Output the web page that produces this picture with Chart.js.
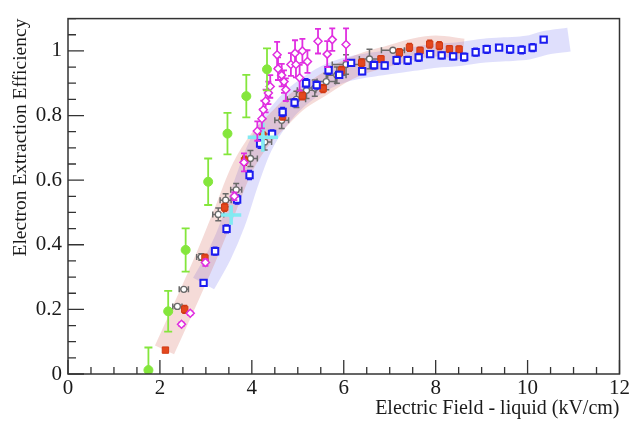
<!DOCTYPE html>
<html>
<head>
<meta charset="utf-8">
<script src="https://cdn.jsdelivr.net/npm/chart.js@4/dist/chart.umd.min.js"></script>
<style>
  html, body { margin: 0; padding: 0; background: #fff; }
</style>
</head>
<body>
<canvas id="extraction" width="632" height="425"></canvas>
<script>
// green: filled circles, vertical errors only
const greenX = [1.75, 2.18, 2.56, 3.05, 3.47, 3.88, 4.33]
const greenY = [0.012, 0.194, 0.384, 0.595, 0.744, 0.86, 0.943]
const greenYErr = [0.07, 0.063, 0.067, 0.072, 0.064, 0.066, 0.065]

// magenta: open diamonds
const magX = [2.47, 2.66, 2.99, 3.62, 3.83, 4.12, 4.22, 4.25, 4.30, 4.36, 4.40, 4.55, 4.57, 4.65, 4.70, 4.74,
  4.85, 4.94, 4.96, 5.04, 5.10, 5.21, 5.44, 5.64, 5.75, 6.05]
const magY = [0.154, 0.188, 0.345, 0.55, 0.655, 0.752, 0.79, 0.818, 0.845, 0.87, 0.89, 0.988, 0.945, 0.925, 0.905, 0.88,
  0.958, 0.993, 0.958, 0.917, 1.0, 0.967, 1.03, 0.99, 1.035, 1.02]
const magYErr = [0.006, 0.006, 0.01, 0.012, 0.028, 0.03, 0.03, 0.028, 0.035, 0.035, 0.035, 0.04, 0.035, 0.035, 0.035, 0.035,
  0.035, 0.04, 0.04, 0.04, 0.037, 0.035, 0.038, 0.04, 0.035, 0.05]

// red: filled squares
const redX = [2.12, 2.54, 2.98, 3.41, 3.84, 4.24, 4.67, 5.10, 5.55, 5.95, 6.39, 6.81, 7.21, 7.43, 7.66, 7.87, 8.08, 8.30, 8.51]
const redY = [0.074, 0.2, 0.359, 0.516, 0.66, 0.738, 0.798, 0.861, 0.883, 0.94, 0.963, 0.975, 0.995, 1.011, 1.001, 1.021, 1.016, 1.006, 1.005]
const redYErr = [0.006, 0.012, 0.012, 0.012, 0.014, 0.012, 0.012, 0.012, 0.012, 0.012, 0.012, 0.01, 0.012, 0.012, 0.01, 0.012, 0.012, 0.01, 0.01]

// blue: open squares
const blueX = [2.95, 3.20, 3.45, 3.68, 3.95, 4.18, 4.44, 4.67, 4.93, 5.18, 5.41, 5.67, 5.90, 6.16, 6.40, 6.66,
  6.89, 7.15, 7.39, 7.63, 7.88, 8.13, 8.38, 8.62, 8.87, 9.11, 9.38, 9.62, 9.87, 10.11, 10.35]
const blueY = [0.282, 0.38, 0.449, 0.54, 0.616, 0.713, 0.743, 0.811, 0.84, 0.9, 0.894, 0.94, 0.926, 0.963, 0.937, 0.956,
  0.955, 0.971, 0.971, 0.98, 0.99, 0.986, 0.983, 0.981, 0.996, 1.005, 1.01, 1.005, 1.003, 1.01, 1.035]
const blueYErr = [0.008, 0.012, 0.012, 0.014, 0.014, 0.014, 0.012, 0.014, 0.012, 0.014, 0.012, 0.012, 0.01, 0.01, 0.01, 0.012,
  0.01, 0.012, 0.012, 0.012, 0.01, 0.01, 0.01, 0.012, 0.012, 0.012, 0.006, 0.012, 0.012, 0.012, 0.008]

// grey: open circles with errors on both axes
const greyX = [2.38, 2.52, 2.90, 3.27, 3.43, 3.66, 3.97, 4.28, 4.65, 4.97, 5.19, 5.37, 5.62, 5.85, 6.05, 6.56, 7.07]
const greyY = [0.209, 0.262, 0.362, 0.494, 0.538, 0.57, 0.667, 0.718, 0.785, 0.85, 0.878, 0.885, 0.905, 0.925, 0.958, 0.975, 1.002]
const greyXErr = [0.1, 0.1, 0.1, 0.12, 0.12, 0.12, 0.15, 0.15, 0.15, 0.2, 0.2, 0.2, 0.2, 0.2, 0.3, 0.22, 0.25]
const greyYErr = [0.005, 0.005, 0.01, 0.02, 0.02, 0.02, 0.025, 0.025, 0.025, 0.025, 0.025, 0.025, 0.025, 0.025, 0.03, 0.03, 0.005]

// cyan: crosses
const cyanX = [3.55, 4.24]
const cyanY = [0.492, 0.733]
const cyanXErr = [0.22, 0.33]
const cyanYErr = [0.03, 0.045]

// systematic bands (centre lines)
const bandRedX = [2.1, 2.5, 3.0, 3.4, 3.8, 4.2, 4.6, 5.0, 5.5, 6.0, 6.5, 7.0, 7.5, 8.0, 8.6]
const bandRedY = [0.075, 0.2, 0.36, 0.5, 0.64, 0.73, 0.79, 0.845, 0.89, 0.935, 0.965, 0.985, 1.005, 1.015, 1.005]
const bandBlueX = [2.95, 3.3, 3.6, 3.9, 4.2, 4.6, 5.0, 5.5, 6.0, 6.5, 7.0, 7.5, 8.0, 8.5, 9.0, 9.5, 10.0, 10.4, 10.9]
const bandBlueY = [0.28, 0.37, 0.47, 0.6, 0.71, 0.8, 0.86, 0.91, 0.94, 0.955, 0.965, 0.975, 0.985, 0.99, 1.0, 1.005, 1.01, 1.025, 1.035]

const pts = (xs, ys) => xs.map((x, i) => ({ x: x, y: ys[i] }))
const isMajor = (v, step) => Math.abs(v / step - Math.round(v / step)) < 1e-6
const serif = '"Liberation Serif", "Times New Roman", serif'

// draws error bars for a dataset just before its markers
const errorBars = {
  id: 'errorBars',
  beforeDatasetDraw(chart, args) {
    const ds = chart.data.datasets[args.index]
    if (!ds.yErr && !ds.xErr) return
    const { ctx, chartArea: a, scales: { x, y } } = chart
    const cap = ds.capSize || 0
    ctx.save()
    ctx.beginPath()
    ctx.rect(a.left, a.top, a.right - a.left, a.bottom - a.top)
    ctx.clip()
    ctx.strokeStyle = ds.errColor || ds.borderColor
    ctx.lineWidth = ds.errWidth || 1.5
    ctx.beginPath()
    ds.data.forEach((p, i) => {
      const px = x.getPixelForValue(p.x)
      const py = y.getPixelForValue(p.y)
      const ey = ds.yErr ? ds.yErr[i] : 0
      const ex = ds.xErr ? ds.xErr[i] : 0
      if (ey) {
        const y0 = y.getPixelForValue(p.y - ey)
        const y1 = y.getPixelForValue(p.y + ey)
        ctx.moveTo(px, y0); ctx.lineTo(px, y1)
        if (cap) {
          ctx.moveTo(px - cap, y0); ctx.lineTo(px + cap, y0)
          ctx.moveTo(px - cap, y1); ctx.lineTo(px + cap, y1)
        }
      }
      if (ex) {
        const x0 = x.getPixelForValue(p.x - ex)
        const x1 = x.getPixelForValue(p.x + ex)
        ctx.moveTo(x0, py); ctx.lineTo(x1, py)
        if (cap) {
          ctx.moveTo(x0, py - cap); ctx.lineTo(x0, py + cap)
          ctx.moveTo(x1, py - cap); ctx.lineTo(x1, py + cap)
        }
      }
    })
    ctx.stroke()
    ctx.restore()
  }
}

// frame box plus inward tick marks
const frameTicks = {
  id: 'frameTicks',
  afterDraw(chart) {
    const { ctx, chartArea: a, scales: { x, y } } = chart
    ctx.save()
    ctx.strokeStyle = '#333'
    ctx.lineWidth = 1.5
    ctx.strokeRect(a.left, a.top, a.right - a.left, a.bottom - a.top)
    ctx.lineWidth = 1.3
    ctx.beginPath()
    x.ticks.forEach(t => {
      const px = x.getPixelForValue(t.value)
      const len = isMajor(t.value, 2) ? 14 : 7
      ctx.moveTo(px, a.bottom); ctx.lineTo(px, a.bottom - len)
    })
    y.ticks.forEach(t => {
      const py = y.getPixelForValue(t.value)
      const len = isMajor(t.value, 0.2) ? 16 : 8
      ctx.moveTo(a.left, py); ctx.lineTo(a.left + len, py)
    })
    ctx.stroke()
    ctx.restore()
  }
}

const band = (xs, ys, color, width) => ({
  type: 'line',
  data: pts(xs, ys),
  borderColor: color,
  borderWidth: width,
  borderCapStyle: 'butt',
  borderJoinStyle: 'round',
  pointRadius: 0,
  tension: 0.35,
  showLine: true,
  fill: false
})

new Chart(document.getElementById('extraction'), {
  type: 'scatter',
  data: {
    datasets: [
      {
        data: pts(greenX, greenY), yErr: greenYErr, capSize: 4, errWidth: 1.8,
        pointStyle: 'circle', pointRadius: 4.5, backgroundColor: '#84e63c', borderColor: '#84e63c'
      },
      {
        data: pts(magX, magY), yErr: magYErr, capSize: 3, errWidth: 1.8,
        pointStyle: 'rectRot', pointRadius: 4, borderWidth: 1.5, backgroundColor: '#fff', borderColor: '#e02ee0'
      },
      {
        data: pts(cyanX, cyanY), xErr: cyanXErr, yErr: cyanYErr, errWidth: 3.5,
        pointStyle: 'circle', pointRadius: 2.5, backgroundColor: '#82eaf2', borderColor: '#82eaf2'
      },
      {
        data: pts(blueX, blueY), yErr: blueYErr, capSize: 2.5, errWidth: 1.5,
        pointStyle: 'rect', pointRadius: 4.5, borderWidth: 2, backgroundColor: '#fff', borderColor: '#1c1cf0'
      },
      {
        data: pts(redX, redY), yErr: redYErr, capSize: 2.5, errWidth: 1.5,
        pointStyle: 'rect', pointRadius: 4.5, borderWidth: 1, backgroundColor: '#e4481e', borderColor: '#d03a14'
      },
      {
        data: pts(greyX, greyY), xErr: greyXErr, yErr: greyYErr, capSize: 3, errWidth: 1.5,
        pointStyle: 'circle', pointRadius: 3, borderWidth: 1.3, backgroundColor: '#fff', borderColor: '#6a6a6a'
      },
      band(bandRedX, bandRedY, 'rgba(215, 115, 105, 0.26)', 21),
      band(bandBlueX, bandBlueY, 'rgba(110, 110, 240, 0.22)', 24)
    ]
  },
  options: {
    responsive: false,
    animation: false,
    layout: { padding: { top: 8, right: 8 } },
    plugins: {
      legend: { display: false },
      tooltip: { enabled: false }
    },
    scales: {
      x: {
        type: 'linear',
        min: 0,
        max: 12,
        afterFit: s => { s.height = 51 },
        grid: { display: false, drawTicks: false },
        border: { display: false },
        ticks: {
          stepSize: 0.5,
          autoSkip: false,
          maxRotation: 0,
          padding: 2,
          color: '#1a1a1a',
          font: { family: serif, size: 21 },
          callback: v => isMajor(v, 2) ? String(v) : ''
        },
        title: {
          display: true,
          text: 'Electric Field - liquid (kV/cm)',
          align: 'end',
          color: '#1a1a1a',
          font: { family: serif, size: 20 },
          padding: { top: 0, bottom: 4 }
        }
      },
      y: {
        type: 'linear',
        min: 0,
        max: 1.1,
        afterFit: s => { s.width = 68 },
        grid: { display: false, drawTicks: false },
        border: { display: false },
        ticks: {
          stepSize: 0.05,
          autoSkip: false,
          padding: 6,
          color: '#1a1a1a',
          font: { family: serif, size: 21 },
          callback: v => isMajor(v, 0.2) ? String(Math.round(v * 10) / 10) : ''
        },
        title: {
          display: true,
          text: 'Electron Extraction Efficiency',
          align: 'end',
          color: '#1a1a1a',
          font: { family: serif, size: 19.5 },
          padding: { top: 9, bottom: 0 }
        }
      }
    }
  },
  plugins: [errorBars, frameTicks]
})
</script>
</body>
</html>
